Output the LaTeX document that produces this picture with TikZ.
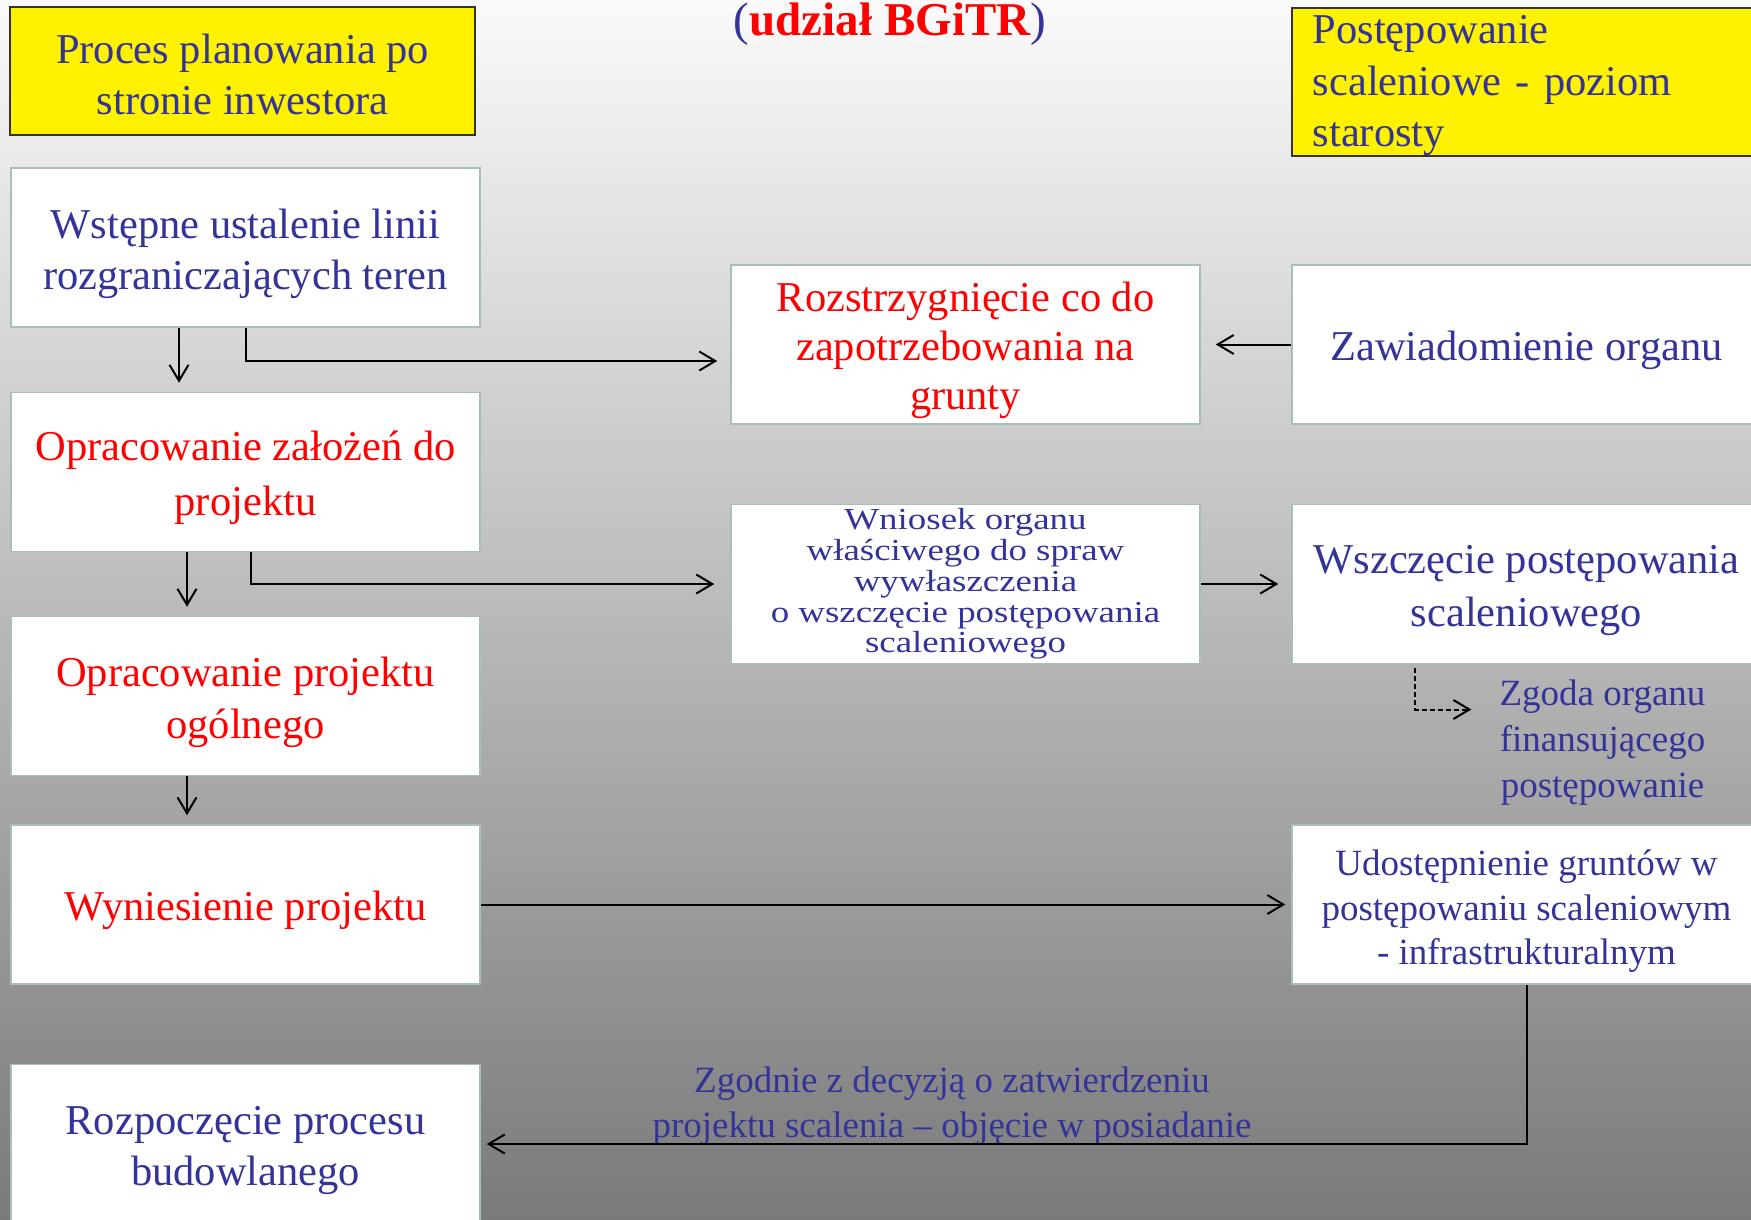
\documentclass[tikz,border=0pt]{standalone}
\usepackage{fontspec}
\setmainfont{Liberation Serif}
\newfontfamily\squashfont[FakeStretch=1.21]{Liberation Serif}
\usetikzlibrary{arrows.meta}
\definecolor{tblue}{RGB}{51,51,153}
\definecolor{tred}{RGB}{255,0,0}
\definecolor{frame}{RGB}{165,190,190}
\definecolor{bgtop}{RGB}{250,250,250}
\definecolor{bgmid}{RGB}{200,200,200}
\definecolor{bgbot}{RGB}{122,122,122}
\newcommand\boxup[1][42pt]{\rule{0pt}{#1}}

\begin{document}
\begin{tikzpicture}[x=1pt,y=-1pt,
    box/.style={draw=frame,fill=white,line width=1.5pt,minimum width=469pt,
      minimum height=159pt,inner sep=0pt,align=center,
      font=\fontsize{42.5}{51}\selectfont},
    ybox/.style={draw=black!80,fill=yellow,line width=1.5pt,inner sep=0pt,
      text=tblue,font=\fontsize{42.5}{51}\selectfont},
    note/.style={text=tblue,align=center,inner sep=0pt},
    arr/.style={-{Straight Barb[length=16pt,width=19pt]},line width=2pt}]
  \useasboundingbox (0,0) rectangle (1751,1219);
  \clip (0,0) rectangle (1751,1219);
  \shade[top color=bgtop,middle color=bgmid,bottom color=bgbot] (0,0) rectangle (1751,1219);
  % headers
  \node[ybox,minimum width=465pt,minimum height=128pt,align=center] (inw) at (242.5,71)
    {\boxup[36pt]Proces planowania po\\stronie inwestora};
  \node[ybox,anchor=north west,text width=449pt,inner xsep=21pt,
    align=left,font=\fontsize{42.5}{51.5}\selectfont] (sta) at (1291,7)
    {\boxup[36pt]Postępowanie\\scaleniowe - poziom\\starosty};
  \node[anchor=base,text=tred,font=\fontsize{47}{56}\selectfont\bfseries] (tyt) at (890,35)
    {{\mdseries\color{tblue}(}udział BGiTR{\mdseries\color{tblue})}};
  % left column
  \node[box,text=tblue] (wst) at (245.5,247.5) {\boxup Wstępne ustalenie linii\\rozgraniczających teren};
  \node[box,text=tred,font=\fontsize{42.5}{55}\selectfont] (zal) at (245.5,472) {\boxup Opracowanie założeń do\\projektu};
  \node[box,text=tred,font=\fontsize{42.5}{52}\selectfont] (ogo) at (245.5,696) {\boxup Opracowanie projektu\\ogólnego};
  \node[box,text=tred] (wyn) at (245.5,904.5) {\boxup Wyniesienie projektu};
  \node[box,text=tblue] (bud) at (245.5,1144) {\boxup Rozpoczęcie procesu\\budowlanego};
  % middle column
  \node[box,text=tred,font=\fontsize{42.5}{49}\selectfont] (grn) at (965.5,344.5) {\boxup Rozstrzygnięcie co do\\zapotrzebowania na\\grunty};
  \node[box,text=tblue,font=\squashfont\fontsize{30.5}{30.7}\selectfont] (wni) at (965.5,584)
    {Wniosek organu\\właściwego do spraw\\wywłaszczenia\\o wszczęcie postępowania\\scaleniowego};
  % right column
  \node[box,text=tblue] (zaw) at (1526.5,344.5) {\boxup Zawiadomienie organu};
  \node[box,text=tblue,font=\fontsize{42.5}{53}\selectfont] (wsz) at (1526.5,584) {\boxup Wszczęcie postępowania\\scaleniowego};
  \node[box,text=tblue,font=\fontsize{37}{44.5}\selectfont] (udo) at (1526.5,904.5)
    {\boxup[39pt]Udostępnienie gruntów w\\postępowaniu scaleniowym\\- infrastrukturalnym};
  \node[note,font=\fontsize{37}{46}\selectfont] (zgo) at (1602.5,742.5) {Zgoda organu\\finansującego\\postępowanie};
  \node[note,font=\fontsize{37}{45}\selectfont] (dec) at (952,1106)
    {Zgodnie z decyzją o zatwierdzeniu\\projektu scalenia -- objęcie w posiadanie};
  % arrows
  \foreach \a/\b/\dx in {wst/zal/-66.5,zal/ogo/-58.5,ogo/wyn/-58.5}
    \draw[arr,shorten >=9pt] ([xshift=\dx pt]\a.south) -- ([xshift=\dx pt]\b.north);
  \draw[arr,shorten >=13pt] (wst.south) |- ([yshift=-16.5pt]grn.west);
  \draw[arr,shorten >=16pt] ([xshift=5.5pt]zal.south) |- (wni.west);
  \draw[arr,shorten >=15pt] (zaw.west) -- (grn.east);
  \draw[arr,shorten >=13pt] (wni.east) -- (wsz.west);
  \draw[arr,shorten >=6pt] (wyn.east) -- (udo.west);
  \draw[arr,shorten >=6pt] (udo.south) |- (bud.east);
  \draw[arr,dash pattern=on 5pt off 3pt,shorten <=4pt,shorten >=28pt]
    ([xshift=-111.5pt]wsz.south) |- ([yshift=33pt]zgo.west);
\end{tikzpicture}
\end{document}
